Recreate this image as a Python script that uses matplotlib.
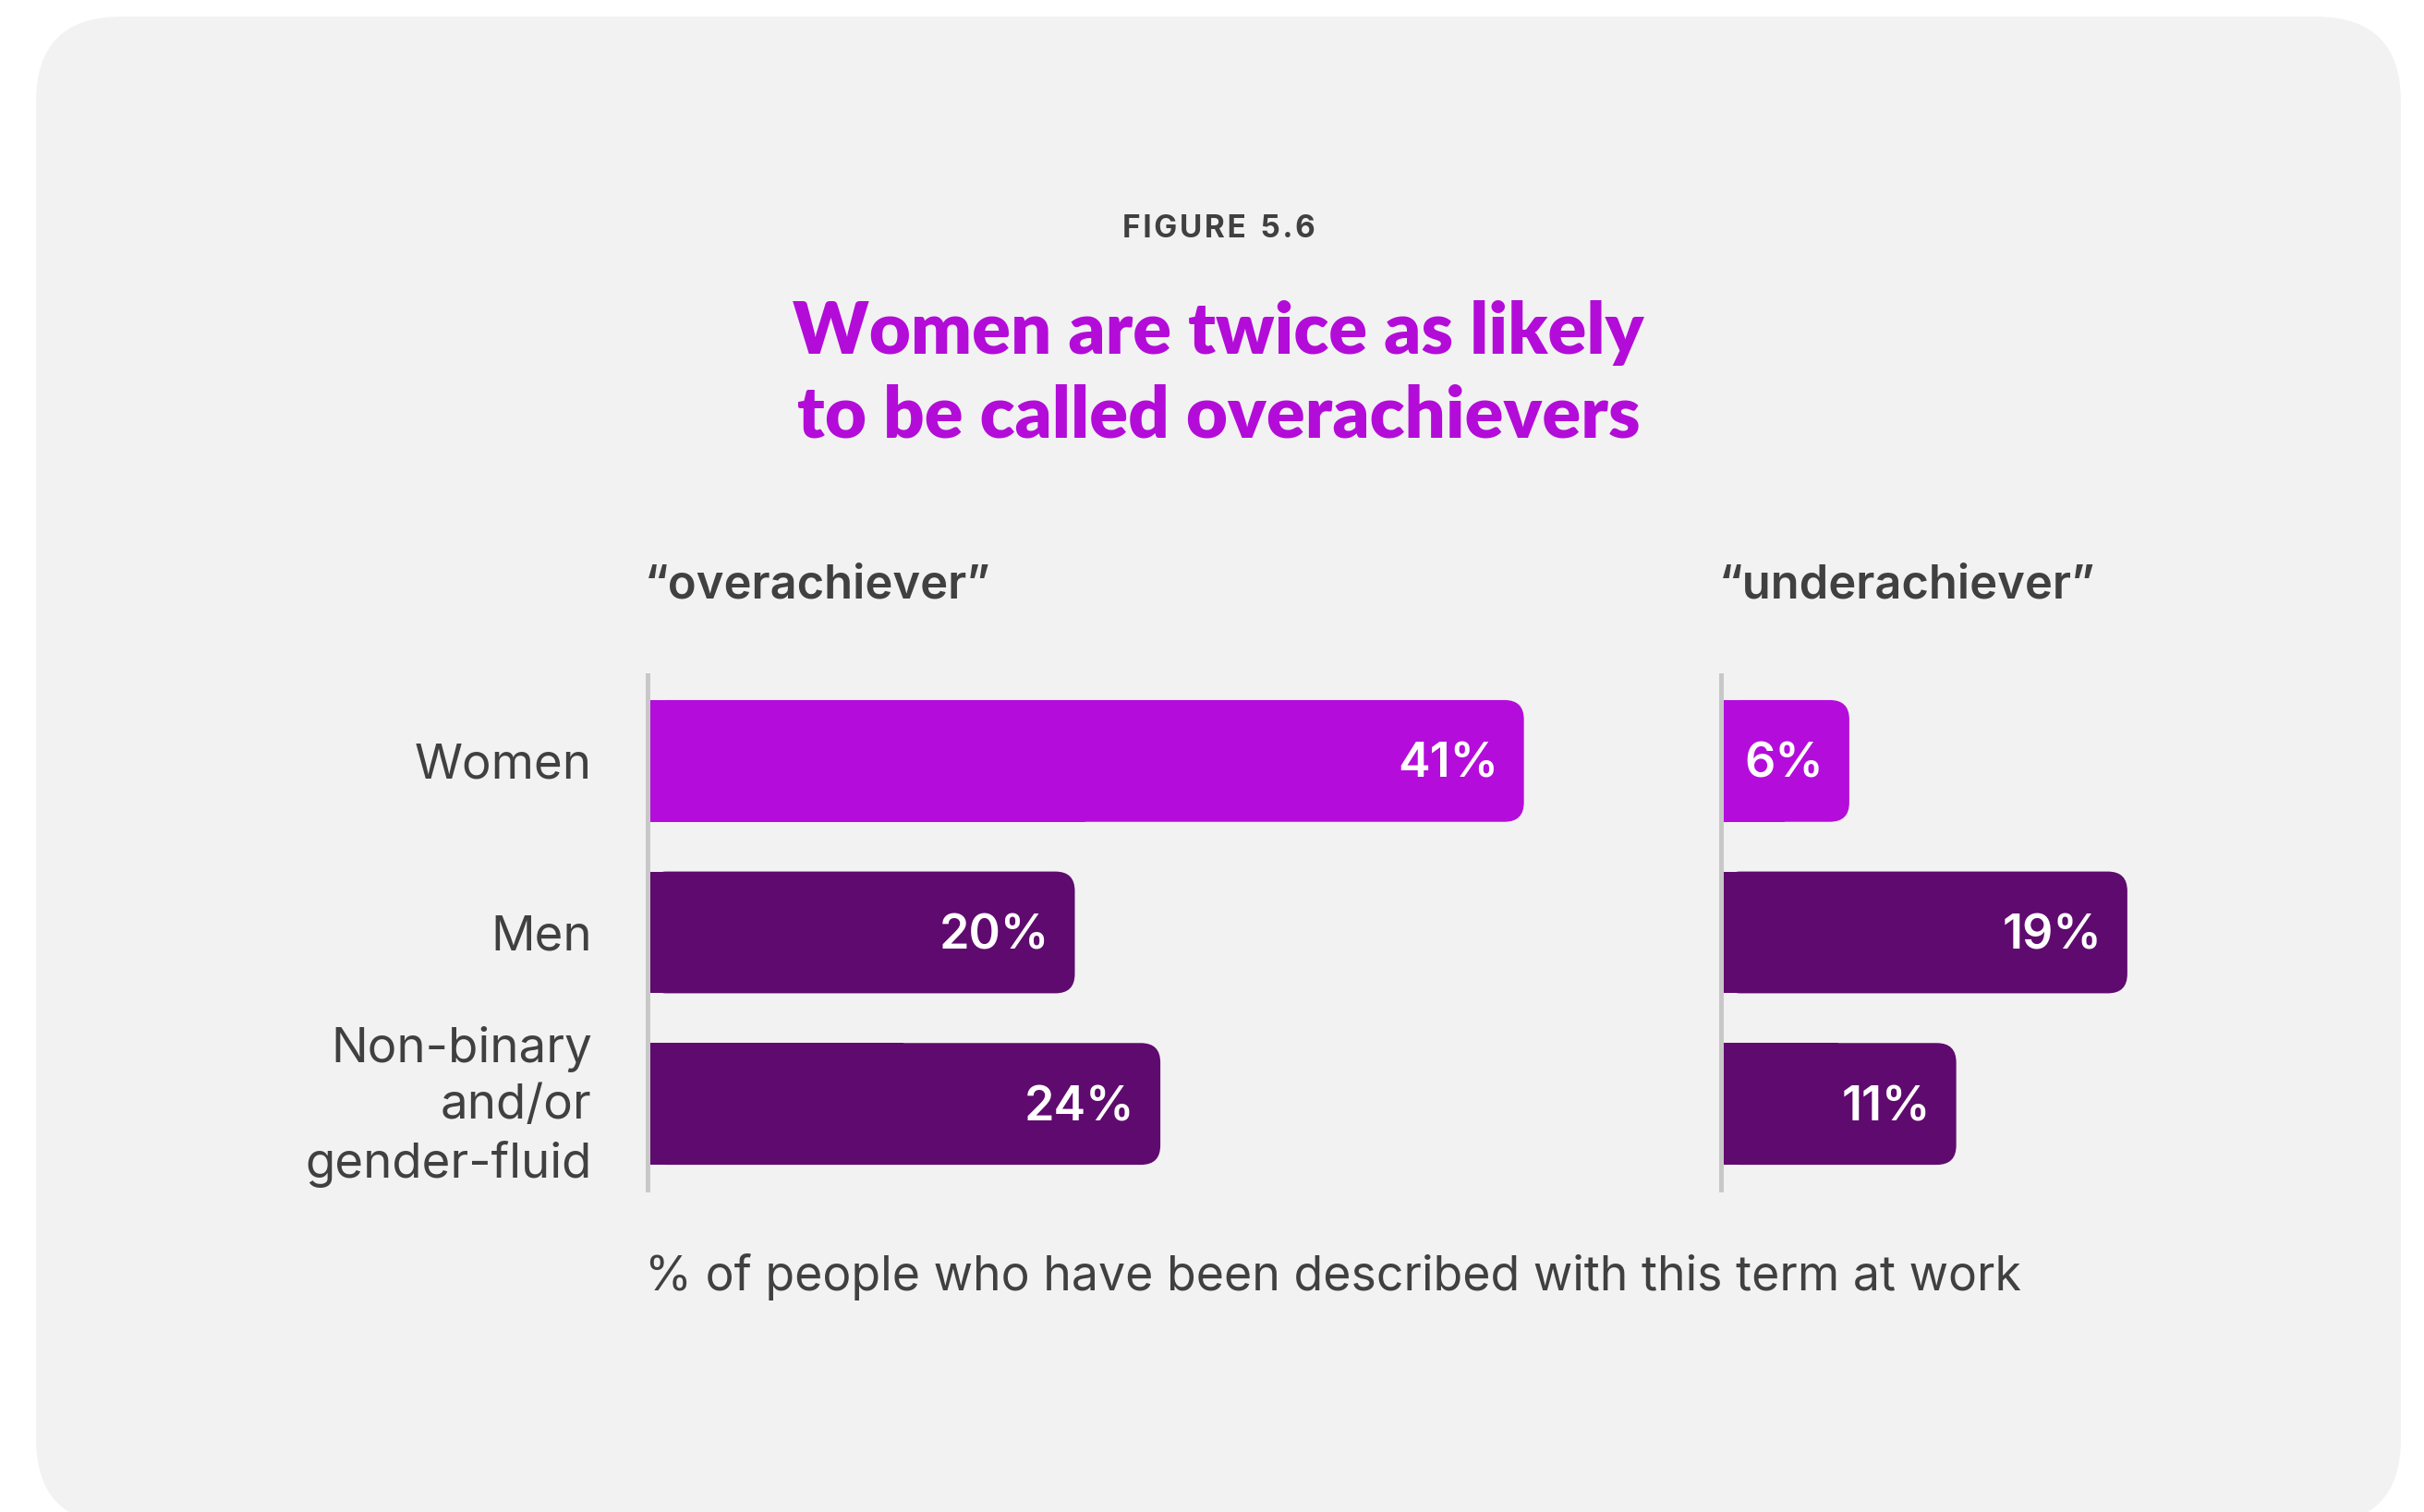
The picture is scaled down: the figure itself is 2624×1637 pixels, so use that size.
import matplotlib
matplotlib.use("Agg")
import matplotlib.pyplot as plt
from matplotlib.patches import FancyBboxPatch, Rectangle

# data
groups = ["Women", "Men", "Non-binary\nand/or\ngender-fluid"]
over_vals = [41, 20, 24]
under_vals = [6, 19, 11]
panel_titles = ["\u201coverachiever\u201d", "\u201cunderachiever\u201d"]
value_labels_over = ["41%", "20%", "24%"]
value_labels_under = ["6%", "19%", "11%"]
bar_colors = ["#b40ddb", "#5f0a6e", "#5f0a6e"]

W, H = 2624, 1637
TXT = "#404040"
BODY = ["Inter", "DejaVu Sans"]
HEAD = ["Lato", "DejaVu Sans"]

fig = plt.figure(figsize=(W / 100, H / 100), dpi=100)
fig.patch.set_facecolor("white")

# background axes in pixel coordinates
bg = fig.add_axes([0, 0, 1, 1])
bg.set_xlim(0, W)
bg.set_ylim(H, 0)
bg.axis("off")
bg.add_patch(FancyBboxPatch((39, 18), 2560, 1632,
                            boxstyle="round,pad=0,rounding_size=92",
                            fc="#f2f2f2", ec="none"))

bg.text(1319, 257, "\u200a".join("FIGURE") + "  " + "\u200a".join("5.6"),
        ha="center", va="baseline", fontsize=24,
        fontweight="bold", color=TXT, family=BODY)
bg.text(1319, 383, "Women are twice as likely", ha="center", va="baseline",
        fontsize=56, fontweight="heavy", color="#b30cd9", family=HEAD)
bg.text(1319, 473, "to be called overachievers", ha="center", va="baseline",
        fontsize=56, fontweight="heavy", color="#b30cd9", family=HEAD)
bg.text(698, 648, panel_titles[0], ha="left", va="baseline", fontsize=36.5,
        fontweight="semibold", color=TXT, family=BODY)
bg.text(1861, 648, panel_titles[1], ha="left", va="baseline", fontsize=36.5,
        fontweight="semibold", color=TXT, family=BODY)
bg.text(698, 1397, "% of people who have been described with this term at work",
        ha="left", va="baseline", fontsize=37.3, color=TXT, family=BODY)

px_per_pct = 23.15
y_top, y_bot = 731, 1288


def make_axes(left_px, xmax):
    ax = fig.add_axes([left_px / W, (H - y_bot) / H,
                       xmax * px_per_pct / W, (y_bot - y_top) / H])
    ax.set_xlim(0, xmax)
    ax.set_ylim(2.5, -0.5)
    ax.patch.set_alpha(0)
    for s in ["top", "right", "bottom"]:
        ax.spines[s].set_visible(False)
    ax.spines["left"].set_color("#c8c8c8")
    ax.spines["left"].set_linewidth(3.6)
    ax.spines["left"].set_zorder(5)
    ax.set_xticks([])
    ax.set_yticks([])
    return ax


def draw_bars(ax, vals, labels):
    h = 0.71
    aspect = px_per_pct / ((y_bot - y_top) / 3)
    r = 21 / px_per_pct
    for i, (v, lab, c) in enumerate(zip(vals, labels, bar_colors)):
        ax.add_patch(FancyBboxPatch((0, i - h / 2), v, h,
                                    boxstyle=f"round,pad=0,rounding_size={r}",
                                    mutation_aspect=aspect, fc=c, ec="none", zorder=2))
        ax.add_patch(Rectangle((0, i - h / 2), v / 2, h, fc=c, ec="none", zorder=2))
        ax.annotate(lab, xy=(v, i), xytext=(-20, -13), textcoords="offset points",
                    ha="right", va="baseline", fontsize=37.5, fontweight="semibold",
                    color="white", family=BODY, zorder=3)


ax1 = make_axes(700.5, 45)
# category labels, right aligned left of the axis line
for i, g in enumerate(groups):
    ax1.annotate(g, xy=(0, i), xytext=(-43, 6 if "\n" in g else 0),
                 textcoords="offset points", ha="right", va="center_baseline",
                 multialignment="right", linespacing=1.32,
                 fontsize=38, color=TXT, family=BODY)
draw_bars(ax1, over_vals, value_labels_over)

ax2 = make_axes(1863, 30)
draw_bars(ax2, under_vals, value_labels_under)

fig.savefig("out.png", dpi=100, facecolor="white")
